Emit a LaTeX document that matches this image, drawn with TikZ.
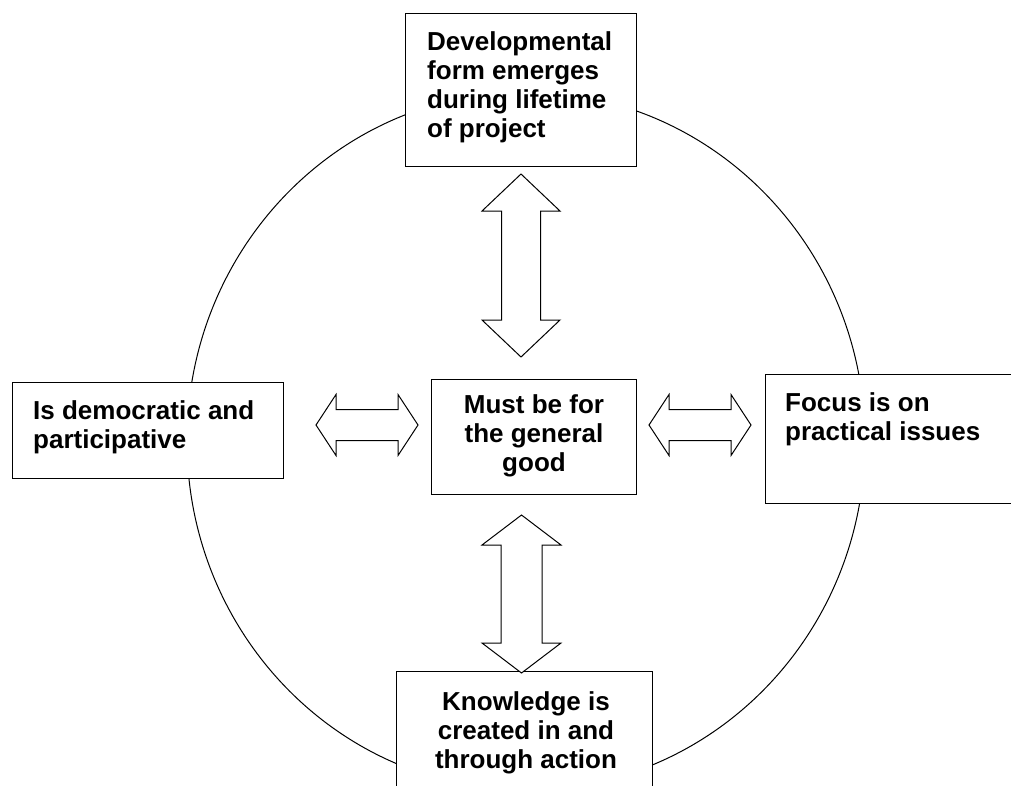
\documentclass[tikz,border=0pt]{standalone}
\usepackage{fontspec}
\setmainfont{Liberation Sans}
\begin{document}
\begin{tikzpicture}[x=1pt,y=-1pt,
  box/.style={draw,fill=white,line width=1.4pt,rectangle,inner sep=0pt,anchor=north west},
  txt/.style={inner sep=0pt,font=\bfseries\fontsize{26}{29}\selectfont},
  fatarrow/.style={draw,line width=1pt,line join=miter,fill=white}]
\useasboundingbox (0,0) rectangle (1011,785);
\clip (0,0) rectangle (1011,785);

% the enclosing cycle
\draw[line width=1pt] (526,441) ellipse [x radius=339, y radius=349];

% boxes
\node[box,minimum width=231pt,minimum height=153pt] (dev) at (405,13) {};
\node[box,minimum width=205pt,minimum height=115pt] (good) at (431,379) {};
\node[box,minimum width=271pt,minimum height=96pt] (demo) at (12,382) {};
\node[box,minimum width=270pt,minimum height=129pt] (focus) at (765,374) {};
\node[box,minimum width=256pt,minimum height=140pt] (know) at (396,671) {};

% box texts
\node[txt,anchor=north west,align=left] (devtext) at ([shift={(22,18.5)}]dev.north west)
  {Developmental\\form emerges\\during lifetime\\of project};
\node[txt,anchor=north,align=center] (goodtext) at (534,394.5)
  {Must be for\\the general\\good};
\node[txt,anchor=north west,align=left] (demotext) at ([shift={(21,18)}]demo.north west)
  {Is democratic and\\participative};
\node[txt,anchor=north west,align=left] (focustext) at ([shift={(20,18.5)}]focus.north west)
  {Focus is on\\practical issues};
\node[txt,anchor=north,align=center] (knowtext) at (526,691.5)
  {Knowledge is\\created in and\\through action};

% two-headed block arrows between the centre and each box
\draw[fatarrow] (521,174) -- (560,211) -- (540.5,211) -- (540.5,320) -- (560,320)
  -- (521,357) -- (482,320) -- (501.5,320) -- (501.5,211) -- (482,211) -- cycle;
\draw[fatarrow] (521.5,515) -- (561,545) -- (542,545) -- (542,643) -- (561,643)
  -- (521.5,673) -- (482,643) -- (501,643) -- (501,545) -- (482,545) -- cycle;
\draw[fatarrow] (316,425) -- (336,394.5) -- (336,409.5) -- (398,409.5) -- (398,394.5)
  -- (418,425) -- (398,455.5) -- (398,440.5) -- (336,440.5) -- (336,455.5) -- cycle;
\draw[fatarrow] (649,425) -- (669,394.5) -- (669,409.5) -- (731,409.5) -- (731,394.5)
  -- (751,425) -- (731,455.5) -- (731,440.5) -- (669,440.5) -- (669,455.5) -- cycle;
\end{tikzpicture}
\end{document}
